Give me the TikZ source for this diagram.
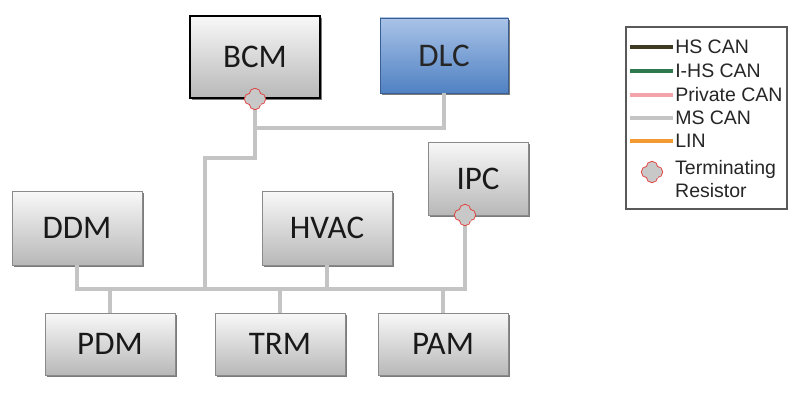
\documentclass[tikz,border=0pt]{standalone}
\usepackage{fontspec}
\setmainfont{Carlito}
\newfontfamily\legfont{Liberation Sans}
\usetikzlibrary{shadows}
\definecolor{busgray}{HTML}{C4C4C4}
\definecolor{boxtop}{HTML}{F8F8F8}
\definecolor{boxbot}{HTML}{B8B8B8}
\definecolor{boxline}{HTML}{8A8A8A}
\definecolor{dlctop}{HTML}{A9C3E8}
\definecolor{dlcbot}{HTML}{5081C2}
\definecolor{dlcline}{HTML}{3A5E92}
\definecolor{hscan}{HTML}{3F3A22}
\definecolor{ihscan}{HTML}{2E7A4E}
\definecolor{privcan}{HTML}{F4A3AB}
\definecolor{lincol}{HTML}{F39A33}
\definecolor{resred}{HTML}{E0403C}
\definecolor{resfill}{HTML}{C8C8C8}
\tikzset{
  ecu/.style={draw=boxline, line width=0.8pt, top color=boxtop, bottom color=boxbot,
    drop shadow={shadow xshift=1.8pt, shadow yshift=-1.8pt, fill=black!60, opacity=0.85},
    minimum width=130pt, inner sep=0pt, font=\fontsize{33}{38}\selectfont, text=black!90},
  bus/.style={draw=busgray, line width=4.5pt},
  legline/.style={line width=4.5pt},
  legtext/.style={anchor=west, inner sep=0pt, font=\legfont\fontsize{19.5}{23}\selectfont, text=black!85},
  resistor/.pic={
    \foreach \p in {(5,0),(-5,0),(0,5),(0,-5)} {\draw[resred, line width=1.8pt] \p circle (5.2);}
    \foreach \p in {(5,0),(-5,0),(0,5),(0,-5)} {\fill[resfill] \p circle (5.2);}
    \fill[resfill] (-5.5,-5.5) rectangle (5.5,5.5);
  }
}
\begin{document}
\begin{tikzpicture}[x=1pt, y=-1pt]
\useasboundingbox[fill=white] (0,0) rectangle (800,404);

% nodes
\node[ecu, minimum height=82pt, draw=black, line width=2pt] (BCM) at (255,57) {BCM};
\node[ecu, minimum width=128pt, minimum height=75pt, draw=dlcline, top color=dlctop, bottom color=dlcbot, text=black!85] (DLC) at (444,55.5) {DLC};
\node[ecu, minimum width=100pt, minimum height=73pt] (IPC) at (478,178.5) {IPC};
\node[ecu, minimum height=74pt] (DDM) at (77,228) {DDM};
\node[ecu, minimum height=74pt] (HVAC) at (327,228) {HVAC};
\node[ecu, minimum height=62pt] (PDM) at (110,344) {PDM};
\node[ecu, minimum height=62pt] (TRM) at (280,344) {TRM};
\node[ecu, minimum height=62pt] (PAM) at (443,344) {PAM};

% junction coordinates
\coordinate (j1) at (255,128);
\coordinate (j2) at (255,158);
\coordinate (j3) at (205,158);
\coordinate (j4) at (205,289);
\coordinate (busL) at (77,289);
\coordinate (ipcR) at (465,215);
\coordinate (busR) at (465,289);

% bus lines
\draw[bus] (BCM.south) -- (j2) -- (j3) -- (j4);
\draw[bus] (j1) -| (DLC.south);
\draw[bus] (DDM.south) -- (busL) -- (busR) -- (ipcR);
\draw[bus] (HVAC.south) -- (HVAC.south |- busL);
\draw[bus] (PDM.north) -- (PDM.north |- busL);
\draw[bus] (TRM.north) -- (TRM.north |- busL);
\draw[bus] (PAM.north) -- (PAM.north |- busL);

% terminating resistors
\pic at (BCM.south) {resistor};
\pic at (ipcR) {resistor};

% legend
\node[draw=black!65, line width=1.3pt, minimum width=161pt, minimum height=182pt, inner sep=0pt] (leg) at (706.5,118) {};
\coordinate (l1) at (630,47);
\coordinate (l2) at (630,71);
\coordinate (l3) at (630,95);
\coordinate (l4) at (630,118);
\coordinate (l5) at (630,141);
\draw[legline, hscan] (l1) -- ++(43,0) node[legtext] (t1) {HS CAN};
\draw[legline, ihscan] (l2) -- ++(43,0) node[legtext] (t2) {I-HS CAN};
\draw[legline, privcan] (l3) -- ++(43,0) node[legtext] (t3) {Private CAN};
\draw[legline, busgray] (l4) -- ++(43,0) node[legtext] (t4) {MS CAN};
\draw[legline, lincol] (l5) -- ++(43,0) node[legtext] (t5) {LIN};
\pic at (652,172) {resistor};
\node[legtext, align=left] (t6) at (675,179) {Terminating\\Resistor};
\end{tikzpicture}
\end{document}
